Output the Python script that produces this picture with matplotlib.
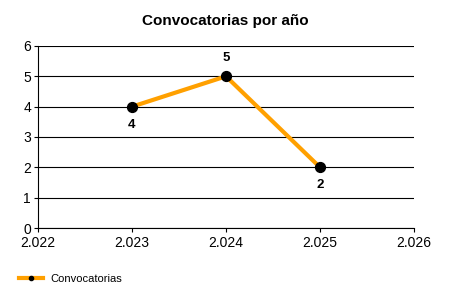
import matplotlib.pyplot as plt
from matplotlib.ticker import FuncFormatter
from matplotlib.lines import Line2D

plt.rcParams["font.family"] = ["Liberation Sans", "DejaVu Sans"]

years = [2023, 2024, 2025]
counts = [4, 5, 2]
label_offsets = [-1, 1, -1]  # below, above, below
series_name = "Convocatorias"
title = "Convocatorias por año"

fig = plt.figure(figsize=(4.5, 3), dpi=100)
ax = fig.add_axes([0.0844, 0.24, 0.8356, 0.6067])

ax.plot(years, counts, color="#FFA000", linewidth=3, zorder=3)
ax.scatter(years, counts, s=50, color="black", zorder=4)
for x, y, off in zip(years, counts, label_offsets):
    ax.annotate(str(y), (x, y), textcoords="offset points", xytext=(0, 13 * off),
                ha="center", va="center", fontsize=9.5, fontweight="bold")

ax.set_xlim(2022, 2026)
ax.set_ylim(0, 6)
ax.set_xticks(range(2022, 2027))
ax.set_yticks(range(0, 7))
ax.xaxis.set_major_formatter(FuncFormatter(lambda v, p: f"{int(v):,}".replace(",", ".")))
ax.grid(axis="y", color="black", linewidth=0.8)
ax.set_axisbelow(True)
for side in ["top", "right"]:
    ax.spines[side].set_visible(False)
ax.spines["left"].set_linewidth(0.8)
ax.spines["bottom"].set_linewidth(0.8)
ax.tick_params(length=3, width=0.8, labelsize=10)
ax.tick_params(axis="y", pad=2)
ax.tick_params(axis="x", pad=3)

fig.suptitle(title, x=0.5, y=0.955, fontsize=11, fontweight="bold")

handle = Line2D([], [], color="#FFA000", linewidth=3, marker="o",
                markersize=3, markerfacecolor="black", markeredgecolor="black")
fig.legend([handle], [series_name], loc="lower left", bbox_to_anchor=(0.02, 0.02),
           frameon=False, fontsize=8, handlelength=2.2, handletextpad=0.6)

fig.savefig("out.png", dpi=100)
